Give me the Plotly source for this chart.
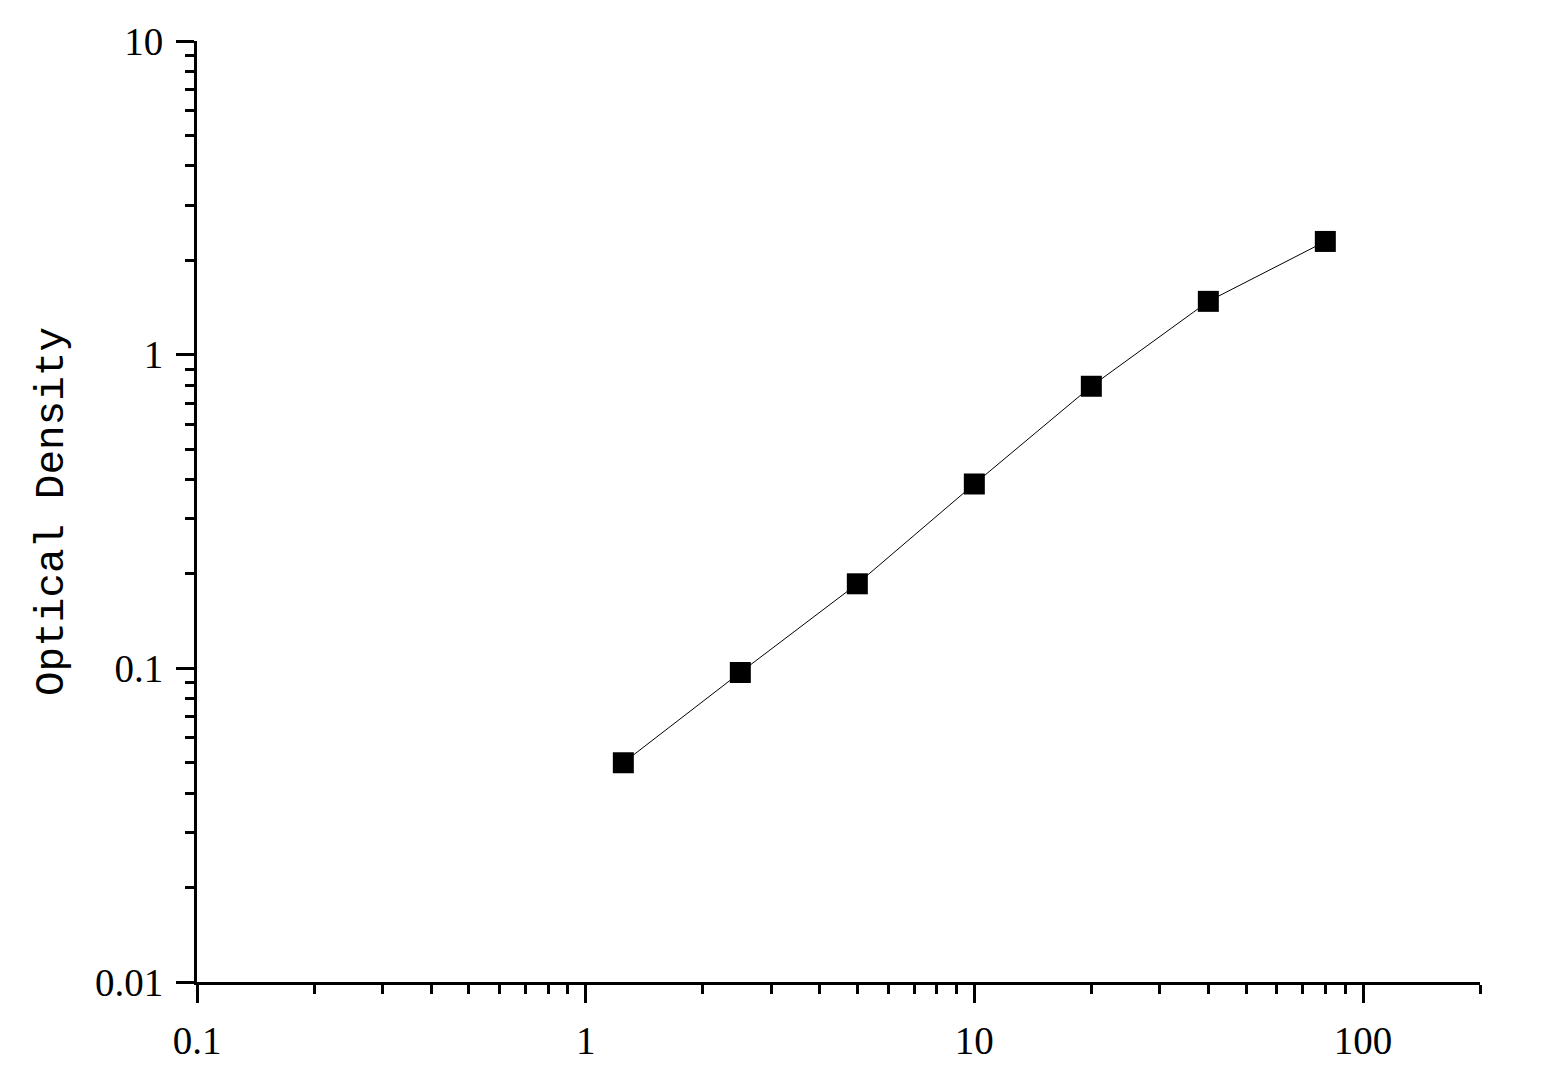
import plotly.graph_objects as go

# ---------- Standard curve data ----------
concentration = [1.25, 2.5, 5, 10, 20, 40, 80]
optical_density = [0.050, 0.097, 0.186, 0.387, 0.793, 1.479, 2.296]

x_tickvals = [0.1, 1, 10, 100]
x_ticktext = ["0.1", "1", "10", "100"]
y_tickvals = [0.01, 0.1, 1, 10]
y_ticktext = ["0.01", "0.1", "1", "10"]

# minor ticks at 2..9 of each decade
x_minor = [m * d for d in [0.1, 1, 10, 100] for m in range(2, 10) if m * d <= 200]
y_minor = [m * d for d in [0.01, 0.1, 1] for m in range(2, 10)]

fig = go.Figure()
fig.add_trace(go.Scatter(
    x=concentration,
    y=optical_density,
    mode="lines+markers",
    line=dict(color="black", width=1),
    marker=dict(symbol="square", size=21, color="black"),
    showlegend=False,
))

axis_common = dict(
    type="log",
    showline=True,
    linecolor="black",
    linewidth=3,
    ticks="outside",
    ticklen=18,
    tickwidth=3,
    tickcolor="black",
    showgrid=False,
    zeroline=False,
    mirror=False,
    tickfont=dict(family="Liberation Serif", size=39, color="black"),
)

fig.update_xaxes(
    **axis_common,
    range=[-1, 2.30103],
    tickmode="array",
    tickvals=x_tickvals,
    ticktext=x_ticktext,
    ticklabelstandoff=4,
    minor=dict(tickmode="array", tickvals=x_minor, ticks="outside",
               ticklen=9, tickwidth=3, tickcolor="black", showgrid=False),
)
fig.update_yaxes(
    **axis_common,
    range=[-2, 1],
    tickmode="array",
    tickvals=y_tickvals,
    ticktext=y_ticktext,
    ticklabelstandoff=5,
    minor=dict(tickmode="array", tickvals=y_minor, ticks="outside",
               ticklen=9, tickwidth=3, tickcolor="black", showgrid=False),
    title=dict(text="Optical Density", standoff=19,
               font=dict(family="Liberation Mono", size=41, color="black")),
)

# page body adds 8px, so margins are shifted to put the plot area in place
fig.update_layout(
    width=1542,
    height=1071,
    paper_bgcolor="white",
    plot_bgcolor="white",
    margin=dict(l=189, r=70, t=31, b=97),
)

fig.write_html("out.html")
